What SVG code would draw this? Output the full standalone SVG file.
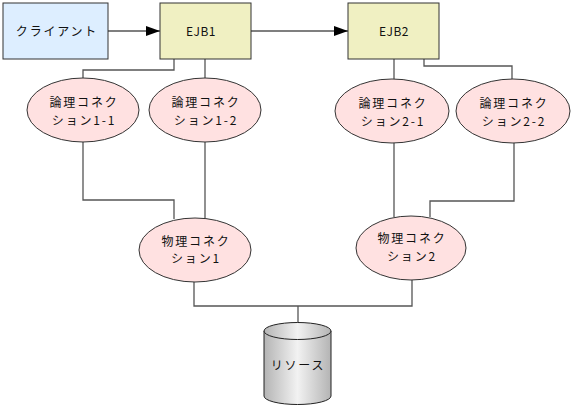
<svg xmlns="http://www.w3.org/2000/svg" width="571" height="411" viewBox="0 0 571 411">
<style>
.box{stroke:#333;stroke-width:1}
.ell{fill:#FFE1E1;stroke:#333;stroke-width:1}
.t{font-family:"Noto Sans CJK JP","DejaVu Sans",sans-serif;font-size:12px;letter-spacing:1.8px;fill:#111;text-anchor:middle}
.l{letter-spacing:0.5px}
.c{fill:none;stroke:#555;stroke-width:1.3}
</style>
<defs>
<marker id="ah" markerWidth="14" markerHeight="10" refX="14" refY="5" orient="auto" markerUnits="userSpaceOnUse">
<path d="M0,0 L14,5 L0,10 Z" fill="#000"/>
</marker>
<linearGradient id="cyl" x1="0" y1="0" x2="1" y2="0">
<stop offset="0" stop-color="#b4b4b4"/>
<stop offset="0.5" stop-color="#f2f2f2"/>
<stop offset="1" stop-color="#b4b4b4"/>
</linearGradient>
</defs>
<rect width="571" height="411" fill="#fff"/>
<g id="connectors">
<line class="c" x1="108" y1="31" x2="160" y2="31" marker-end="url(#ah)"/>
<line class="c" x1="251" y1="31" x2="348" y2="31" marker-end="url(#ah)"/>
<polyline class="c" points="174,59 174,70 83,70 83,78"/>
<line class="c" x1="205" y1="59" x2="205" y2="78"/>
<line class="c" x1="394" y1="59" x2="394" y2="79"/>
<polyline class="c" points="424,59 424,66 512,66 512,79"/>
<polyline class="c" points="83,142 83,200 174,200 174,219"/>
<line class="c" x1="205" y1="142" x2="205" y2="219"/>
<line class="c" x1="394" y1="143" x2="394" y2="217"/>
<polyline class="c" points="514,143 514,201 430,201 430,217"/>
<polyline class="c" points="194,282 194,306 412,306 412,280"/>
<line class="c" x1="298" y1="306" x2="298" y2="323"/>
</g>
<g id="client">
<rect class="box" x="3" y="3" width="105" height="56" fill="#DDEEFF"/>
<text class="t" x="57" y="36">クライアント</text>
</g>
<g id="ejb1">
<rect class="box" x="160" y="3" width="91" height="56" fill="#F0F0C2"/>
<text class="t l" x="201" y="36">EJB1</text>
</g>
<g id="ejb2">
<rect class="box" x="348" y="3" width="91" height="56" fill="#F0F0C2"/>
<text class="t l" x="394" y="36">EJB2</text>
</g>
<g id="lc11">
<ellipse class="ell" cx="83" cy="110" rx="56" ry="32"/>
<text class="t" x="84" y="107">論理コネク</text>
<text class="t" x="84" y="125">ション1-1</text>
</g>
<g id="lc12">
<ellipse class="ell" cx="205" cy="110" rx="56" ry="32"/>
<text class="t" x="206" y="107">論理コネク</text>
<text class="t" x="206" y="125">ション1-2</text>
</g>
<g id="lc21">
<ellipse class="ell" cx="392" cy="111" rx="57" ry="32"/>
<text class="t" x="393" y="108">論理コネク</text>
<text class="t" x="393" y="126">ション2-1</text>
</g>
<g id="lc22">
<ellipse class="ell" cx="513" cy="111" rx="57" ry="32"/>
<text class="t" x="514" y="108">論理コネク</text>
<text class="t" x="514" y="126">ション2-2</text>
</g>
<g id="pc1">
<ellipse class="ell" cx="195" cy="250" rx="56" ry="32"/>
<text class="t" x="196" y="246">物理コネク</text>
<text class="t" x="196" y="263">ション1</text>
</g>
<g id="pc2">
<ellipse class="ell" cx="411" cy="248" rx="55" ry="32"/>
<text class="t" x="412" y="243">物理コネク</text>
<text class="t" x="412" y="261">ション2</text>
</g>
<g id="resource">
<path d="M264,331 L264,396 A33.5,8.5 0 0 0 331,396 L331,331 Z" fill="url(#cyl)" stroke="#222" stroke-width="1"/>
<ellipse cx="297.5" cy="331" rx="33.5" ry="8.5" fill="url(#cyl)" stroke="#222" stroke-width="1"/>
<text class="t" x="298" y="370">リソース</text>
</g>
</svg>
